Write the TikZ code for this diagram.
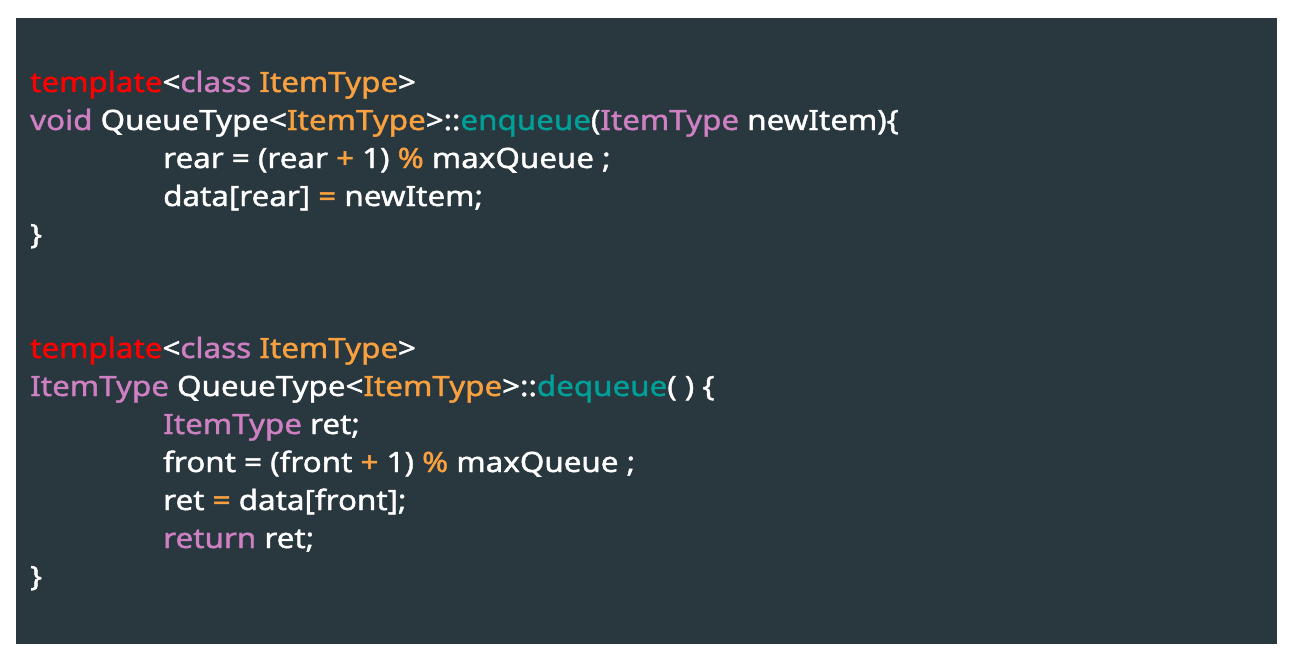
\documentclass[tikz,border=0pt]{standalone}
\usepackage{fontspec}
\setmainfont{Noto Sans}[FakeBold=1.4, FakeStretch=1.12]
\definecolor{bgc}{HTML}{29373F}
\definecolor{kred}{HTML}{FF0000}
\definecolor{kpink}{HTML}{CE80C3}
\definecolor{korange}{HTML}{F9A03F}
\definecolor{kteal}{HTML}{00A098}
\newcommand{\Kr}[1]{\textcolor{kred}{#1}}
\newcommand{\Kp}[1]{\textcolor{kpink}{#1}}
\newcommand{\Ko}[1]{\textcolor{korange}{#1}}
\newcommand{\Kt}[1]{\textcolor{kteal}{#1}}
\begin{document}
\begin{tikzpicture}[x=1pt,y=1pt,
  codeline/.style={anchor=base west, inner sep=0pt, text=white, font=\fontsize{28}{32}\selectfont}]
\useasboundingbox (0,0) rectangle (1291,-661);
\fill[white] (0,0) rectangle (1291,-661);
\fill[bgc] (16,-18) rectangle (1277,-644);
\node[codeline] (l1) at (30,-92) {\Kr{template}<\Kp{class} \Ko{ItemType}>};
\node[codeline] (l2) at (30,-130) {\Kp{void} QueueType<\Ko{ItemType}>::\Kt{enqueue}(\Kp{ItemType} newItem)\{};
\node[codeline] (l3) at (163,-168) {rear = (rear \Ko{+} 1) \Ko{\%} maxQueue ;};
\node[codeline] (l4) at (163,-206) {data[rear] \Ko{=} newItem;};
\node[codeline] (l5) at (30,-244) {\}};
\node[codeline] (m1) at (30,-358) {\Kr{template}<\Kp{class} \Ko{ItemType}>};
\node[codeline] (m2) at (30,-396) {\Kp{ItemType} QueueType<\Ko{ItemType}>::\Kt{dequeue}( ) \{};
\node[codeline] (m3) at (163,-434) {\Kp{ItemType} ret;};
\node[codeline] (m4) at (163,-472) {front = (front \Ko{+} 1) \Ko{\%} maxQueue ;};
\node[codeline] (m5) at (163,-510) {ret \Ko{=} data[front];};
\node[codeline] (m6) at (163,-548) {\Kp{return} ret;};
\node[codeline] (m7) at (30,-586) {\}};
\end{tikzpicture}
\end{document}
